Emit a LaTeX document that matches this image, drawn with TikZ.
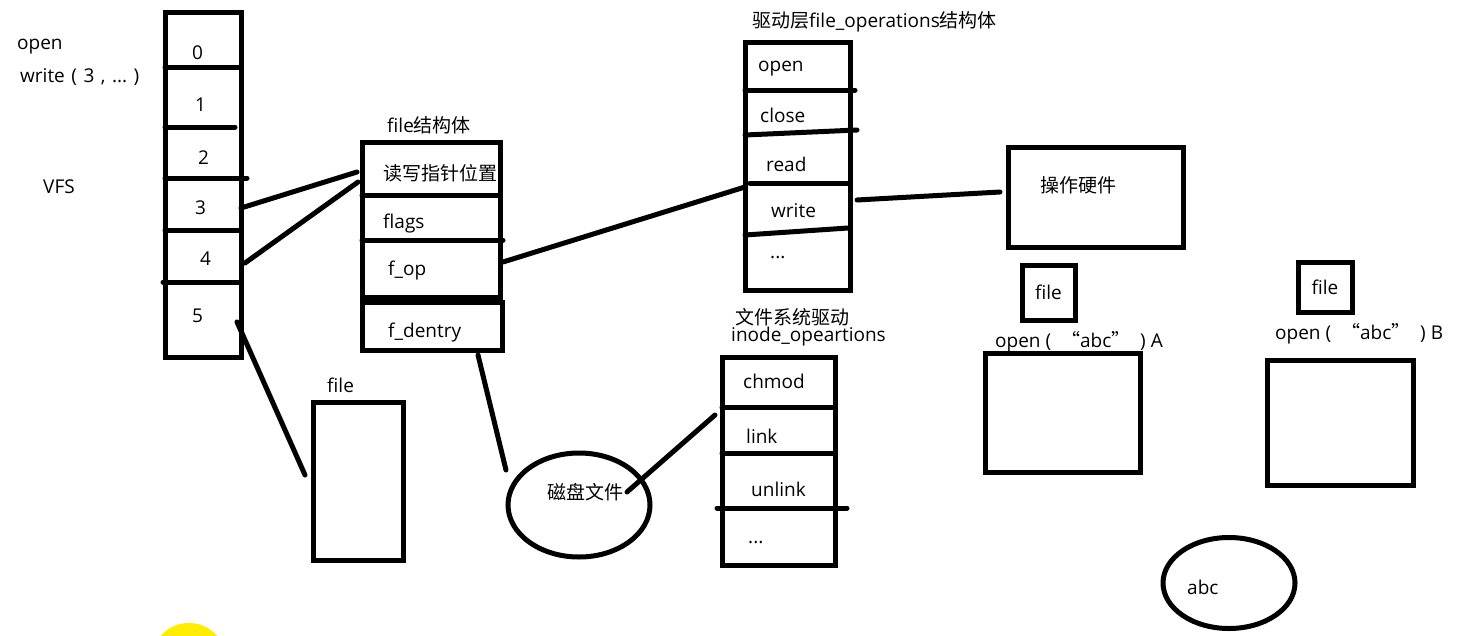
\documentclass[tikz,border=0pt]{standalone}
\usepackage{fontspec}
\setmainfont{Open Sans}
\newfontfamily\cjk{Noto Sans CJK SC}
\usetikzlibrary{shapes.geometric}
\newcommand{\gapw}{\hspace*{6.5pt}}
\begin{document}
\begin{tikzpicture}[x=1pt,y=-1pt,
  box/.style={draw, line width=5pt, inner sep=0pt},
  oval/.style={draw, ellipse, line width=5pt, inner sep=0pt},
  lbl/.style={anchor=west, inner sep=0pt, font=\fontsize{19}{21}\selectfont},
  divider/.style={line width=5pt, line cap=round},
  wire/.style={line width=5pt, line cap=round}]
\useasboundingbox (0,0) rectangle (1457,635);
\fill[white] (0,0) rectangle (1457,635);

% left texts
\node[lbl] (topen) at (17,47) {open};
\node[lbl] (twrite) at (20,77) {write\gapw(\gapw3\gapw,\gapw...\gapw)};
\node[lbl] (tvfs) at (43,187) {VFS};

% VFS fd table
\node[box, minimum width=76pt, minimum height=345pt] (vfs) at (203,184.5) {};
\draw[divider] (165,67) -- (241,67);
\draw[divider] (165,127) -- (235,127);
\draw[divider] (165,178) -- (247,178);
\draw[divider] (165,230) -- (241,230);
\draw[divider] (163,282) -- (241,282);
\node[lbl] (c0) at (192,53) {0};
\node[lbl] (c1) at (195,105) {1};
\node[lbl] (c2) at (198,158) {2};
\node[lbl] (c3) at (195,208) {3};
\node[lbl] (c4) at (200,259) {4};
\node[lbl] (c5) at (192,316) {5};

% file struct
\node[lbl] (tfile) at (387,125) {file{\cjk 结构体}};
\node[box, minimum width=138pt, minimum height=155pt] (fstruct) at (431,219.5) {};
\draw[divider] (362,195) -- (500,195);
\draw[divider] (362,240) -- (503,240);
\node[box, minimum width=140pt, minimum height=48pt] (dentrybox) at (432,326) {};
\node[lbl] (fpos) at (383,173) {\cjk 读写指针位置};
\node[lbl] (fflags) at (383,224) {flags};
\node[lbl] (fop) at (388,271) {f\_op};
\node[lbl] (fdentry) at (388,333) {f\_dentry};

% file_operations
\node[lbl] (tfops) at (752,22) {{\cjk 驱动层}file\_operations{\cjk 结构体}};
\node[box, minimum width=105pt, minimum height=248pt] (fops) at (797.5,166) {};
\draw[divider] (745,90) -- (855,90);
\draw[divider] (745,135) -- (857,130);
\draw[divider] (750,183) -- (848,183);
\draw[divider] (745,235) -- (848,228);
\node[lbl] (oopen) at (758,69) {open};
\node[lbl] (oclose) at (760,115) {close};
\node[lbl] (oread) at (766,164) {read};
\node[lbl] (owrite) at (771,211) {write};
\node[lbl] (odots) at (770,258) {...};

% hardware
\node[box, minimum width=175pt, minimum height=100pt] (hw) at (1095.5,197) {};
\node[lbl] (thw) at (1040,185) {\cjk 操作硬件};

% open A / B
\node[box, minimum width=53pt, minimum height=55pt, font=\fontsize{19}{21}\selectfont] (fileA) at (1048.5,292.5) {file};
\node[lbl] (openA) at (995,342) {open (\ \ {\cjk “}abc{\cjk ”}\ \ ) A};
\node[box, minimum width=155pt, minimum height=119pt] (boxA) at (1062.5,412.5) {};
\node[box, minimum width=54pt, minimum height=50pt, font=\fontsize{19}{21}\selectfont] (fileB) at (1325,287) {file};
\node[lbl] (openB) at (1275,334) {open (\ \ {\cjk “}abc{\cjk ”}\ \ ) B};
\node[box, minimum width=146pt, minimum height=125pt] (boxB) at (1340,422.5) {};

% inode operations
\node[lbl, align=left, font=\fontsize{19}{15}\selectfont] (tinode) at (731,327)
  {\hspace*{4pt}{\cjk 文件系统驱动}\\inode\_opeartions};
\node[box, minimum width=113pt, minimum height=208pt] (inode) at (778.5,461) {};
\draw[divider] (722,407) -- (835,407);
\draw[divider] (722,453) -- (835,453);
\draw[divider] (717,508) -- (847,508);
\node[lbl] (ichmod) at (743,381) {chmod};
\node[lbl] (ilink) at (746,436) {link};
\node[lbl] (iunlink) at (751,489) {unlink};
\node[lbl] (idots) at (748,543) {...};

% disk file
\node[oval, minimum width=142pt, minimum height=104pt] (disk) at (579,505) {};
\node[lbl] (tdisk) at (547,492) {\cjk 磁盘文件};

% lower file box
\node[lbl] (tfile2) at (327,385) {file};
\node[box, minimum width=90pt, minimum height=158pt] (file2) at (358,481) {};

% abc
\node[oval, minimum width=132pt, minimum height=91pt] (abc) at (1229,583) {};
\node[lbl] (tabc) at (1187,587) {abc};

% connector ends
\coordinate (p3) at (241,208); \coordinate (q3) at (357,172);
\coordinate (p4) at (245,263); \coordinate (q4) at (358,182);
\coordinate (p5) at (237,322); \coordinate (q5) at (305,475);
\coordinate (pop) at (503,262); \coordinate (qop) at (745,187);
\coordinate (pw) at (857,200); \coordinate (qw) at (1000,192);
\coordinate (pd) at (478,355); \coordinate (qd) at (506,470);
\coordinate (pk) at (627,492); \coordinate (qk) at (715,415);
\draw[wire] (p3) -- (q3);
\draw[wire] (p4) -- (q4);
\draw[wire] (p5) -- (q5);
\draw[wire] (pop) -- (qop);
\draw[wire] (pw) -- (qw);
\draw[wire] (pd) -- (qd);
\draw[wire] (pk) -- (qk);

% yellow blob
\begin{scope}
\clip (0,0) rectangle (1457,635);
\fill[yellow!95!orange] (189,657) ellipse (36pt and 34pt);
\end{scope}
\end{tikzpicture}
\end{document}
